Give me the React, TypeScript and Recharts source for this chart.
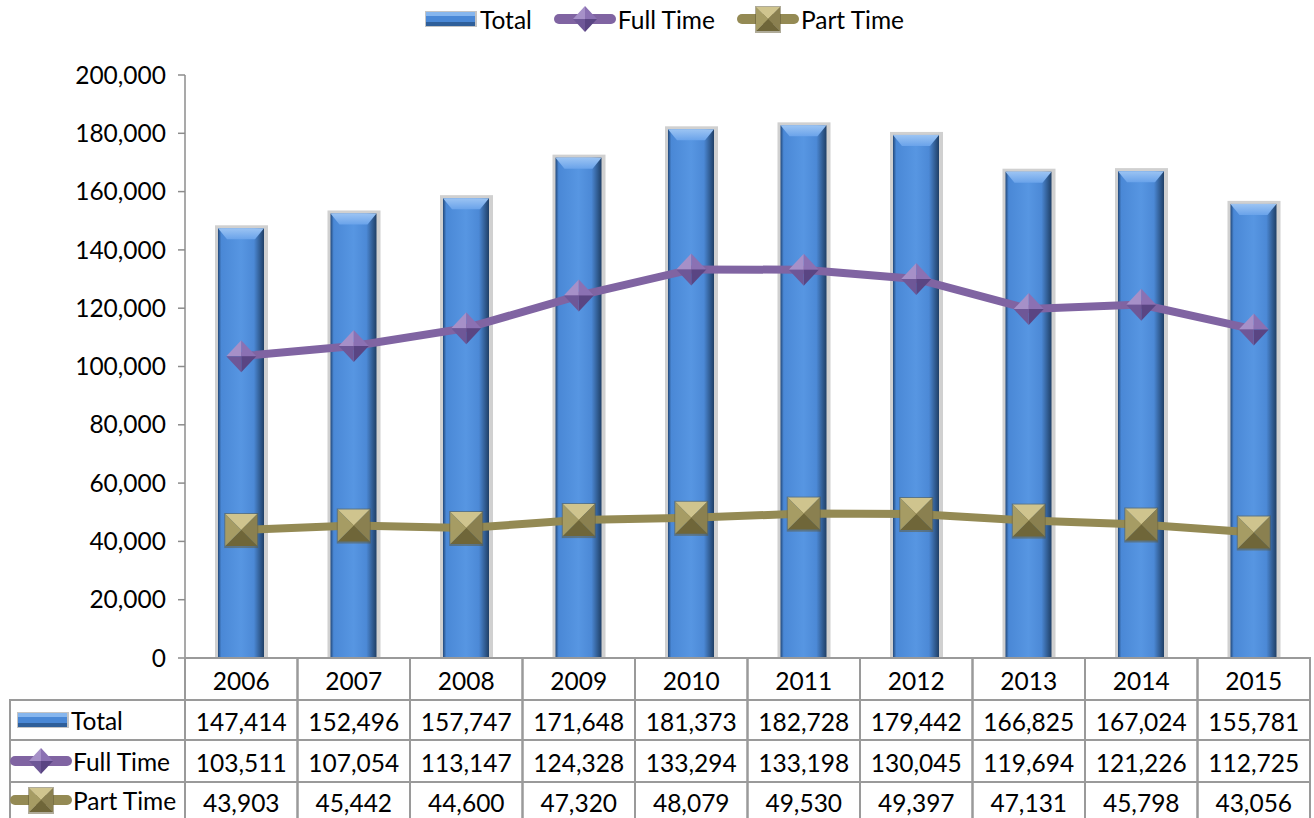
import React from 'react';
import { ComposedChart, Bar, Line, XAxis, YAxis } from 'recharts';

const years = ['2006', '2007', '2008', '2009', '2010', '2011', '2012', '2013', '2014', '2015'];
const total = [147414, 152496, 157747, 171648, 181373, 182728, 179442, 166825, 167024, 155781];
const fullTime = [103511, 107054, 113147, 124328, 133294, 133198, 130045, 119694, 121226, 112725];
const partTime = [43903, 45442, 44600, 47320, 48079, 49530, 49397, 47131, 45798, 43056];
const yTicks = [0, 20000, 40000, 60000, 80000, 100000, 120000, 140000, 160000, 180000, 200000];
const seriesNames = ['Total', 'Full Time', 'Part Time'];

const data = years.map((year, i) => ({
  year,
  total: total[i],
  fullTime: fullTime[i],
  partTime: partTime[i],
}));

const W = 1314;
const H = 818;
const PLOT_LEFT = 185;
const PLOT_RIGHT = 4;
const PLOT_TOP = 75;
const AXIS_H = 160;
const AXIS_Y = H - AXIS_H;
const BAND = (W - PLOT_LEFT - PLOT_RIGHT) / years.length;
const FONT = 'Lato, "Noto Sans", sans-serif';
const FS = 24.5;
const BORDER = '#9a9a9a';
const fmt = (v: number) => v.toLocaleString('en-US');

const PURPLE = '#8064A2';
const OLIVE = '#948A54';

const Diamond = ({ cx, cy, r = 15 }: any) => {
  const t = `${cx},${cy - r - 1}`;
  const rr = `${cx + r},${cy}`;
  const b = `${cx},${cy + r + 1}`;
  const l = `${cx - r},${cy}`;
  const c = `${cx},${cy}`;
  return (
    <g>
      <polygon points={`${c} ${l} ${t}`} fill="#A690C8" />
      <polygon points={`${c} ${t} ${rr}`} fill="#8B71B3" />
      <polygon points={`${c} ${rr} ${b}`} fill="#5A4583" />
      <polygon points={`${c} ${b} ${l}`} fill="#6E5797" />
    </g>
  );
};

const Pyramid = ({ cx, cy, r = 16 }: any) => {
  const tl = `${cx - r},${cy - r}`;
  const tr = `${cx + r},${cy - r}`;
  const br = `${cx + r},${cy + r}`;
  const bl = `${cx - r},${cy + r}`;
  const c = `${cx},${cy}`;
  return (
    <g>
      <rect x={cx - r - 1} y={cy - r - 1} width={2 * r + 2} height={2 * r + 3} fill="#5f5733" opacity={0.5} />
      <polygon points={`${c} ${tl} ${tr}`} fill="#CFC48E" />
      <polygon points={`${c} ${tr} ${br}`} fill="#8A8050" />
      <polygon points={`${c} ${br} ${bl}`} fill="#6F6639" />
      <polygon points={`${c} ${bl} ${tl}`} fill="#A69C64" />
    </g>
  );
};

const BarShape = (props: any) => {
  const { x, y, width, height } = props;
  if (!height || height <= 0) return null;
  const bv = 9;
  return (
    <g>
      <rect x={x - 3} y={y - 3} width={width + 7} height={height + 3} fill="#d0d0d0" />
      <rect x={x} y={y} width={width} height={height} fill="url(#barBody)" />
      <polygon
        points={`${x},${y} ${x + width},${y} ${x + width - bv},${y + bv + 2} ${x + bv},${y + bv + 2}`}
        fill="url(#barTop)"
      />
    </g>
  );
};

const BarIcon = () => (
  <svg width={54} height={20} style={{ verticalAlign: 'middle' }}>
    <rect x={1} y={2} width={52} height={16} fill="#c4c4c4" />
    <rect x={2} y={3} width={49} height={14} fill="#4A88D6" />
    <rect x={2} y={3} width={49} height={4} fill="#86B6EE" />
    <rect x={2} y={13} width={49} height={4} fill="#2f5f9a" />
  </svg>
);

const LineIcon = ({ kind }: { kind: 'd' | 's' }) => (
  <svg width={62} height={34} style={{ verticalAlign: 'middle' }}>
    <line x1={5} y1={17} x2={57} y2={17} stroke={kind === 'd' ? PURPLE : OLIVE} strokeWidth={10} strokeLinecap="round" />
    {kind === 'd' ? <Diamond cx={31} cy={17} r={12} /> : <Pyramid cx={31} cy={17} r={12} />}
  </svg>
);

const icons = [<BarIcon key="b" />, <LineIcon key="d" kind="d" />, <LineIcon key="s" kind="s" />];

const TableTick = (props: any) => {
  const { x, payload } = props;
  const i = payload.index;
  const left = x - BAND / 2;
  const rowTops = [AXIS_Y, 700, 740, 782];
  const rowBottoms = [700, 740, 782, 830];
  const cells = [years[i], fmt(total[i]), fmt(fullTime[i]), fmt(partTime[i])];
  return (
    <g>
      {cells.map((txt, r) => (
        <g key={r}>
          <rect x={left} y={rowTops[r]} width={BAND} height={rowBottoms[r] - rowTops[r]} fill="none" stroke={BORDER} strokeWidth={2} />
          <text
            x={x}
            y={(rowTops[r] + Math.min(rowBottoms[r], 818)) / 2 + (r === 3 ? 2 : 1)}
            textAnchor="middle"
            dominantBaseline="central"
            fontSize={FS}
            fontFamily={FONT}
            fill="#000"
          >
            {txt}
          </text>
        </g>
      ))}
      {i === 0 &&
        [1, 2, 3].map((r) => (
          <rect key={r} x={10} y={rowTops[r]} width={PLOT_LEFT - 10} height={rowBottoms[r] - rowTops[r]} fill="none" stroke={BORDER} strokeWidth={2} />
        ))}
    </g>
  );
};

export default function App() {
  return (
    <div style={{ position: 'absolute', left: 0, top: 0, width: W, height: H, background: '#fff', fontFamily: FONT, overflow: 'hidden' }}>
      <ComposedChart width={W} height={H} data={data} margin={{ top: PLOT_TOP, right: PLOT_RIGHT, bottom: 0, left: 0 }}>
        <defs>
          <linearGradient id="barBody" x1="0" y1="0" x2="1" y2="0">
            <stop offset="0" stopColor="#23497a" />
            <stop offset="0.07" stopColor="#4A88D6" />
            <stop offset="0.5" stopColor="#5796E2" />
            <stop offset="0.78" stopColor="#4C89D6" />
            <stop offset="1" stopColor="#1f3f66" />
          </linearGradient>
          <linearGradient id="barTop" x1="0" y1="0" x2="0" y2="1">
            <stop offset="0" stopColor="#9cc4f3" />
            <stop offset="1" stopColor="#6aa3ea" />
          </linearGradient>
        </defs>
        <XAxis
          dataKey="year"
          height={AXIS_H}
          axisLine={{ stroke: '#8c8c8c', strokeWidth: 1.5 }}
          tickLine={false}
          tickSize={0}
          tickMargin={0}
          interval={0}
          tick={<TableTick />}
        />
        <YAxis
          width={PLOT_LEFT}
          domain={[0, 200000]}
          ticks={yTicks}
          interval={0}
          tickFormatter={fmt}
          axisLine={{ stroke: '#8c8c8c', strokeWidth: 1.5 }}
          tickLine={{ stroke: '#8c8c8c', strokeWidth: 1.5 }}
          tickSize={7}
          tickMargin={12}
          tick={{ fill: '#000', fontSize: FS, fontFamily: FONT }}
        />
        <Bar dataKey="total" barSize={46} shape={<BarShape />} isAnimationActive={false} />
        <Line
          dataKey="fullTime"
          stroke={PURPLE}
          strokeWidth={8}
          dot={(p: any) => <Diamond key={`d${p.index}`} cx={p.cx} cy={p.cy} />}
          activeDot={false}
          isAnimationActive={false}
        />
        <Line
          dataKey="partTime"
          stroke={OLIVE}
          strokeWidth={8}
          dot={(p: any) => <Pyramid key={`s${p.index}`} cx={p.cx} cy={p.cy} />}
          activeDot={false}
          isAnimationActive={false}
        />
      </ComposedChart>
      <div style={{ position: 'absolute', top: 2, left: 0, width: W, display: 'flex', justifyContent: 'center', fontSize: FS, alignItems: 'center' }}>
        {seriesNames.map((n, i) => (
          <span key={n} style={{ display: 'inline-flex', alignItems: 'center', marginRight: i < 2 ? 22 : 0, marginLeft: i === 0 ? 14 : 0 }}>
            {icons[i]}
            <span style={{ marginLeft: 2 }}>{n}</span>
          </span>
        ))}
      </div>
      {seriesNames.map((n, r) => (
        <div
          key={n}
          style={{ position: 'absolute', left: 14, top: [700, 740, 782][r], height: [40, 42, 36][r], display: 'flex', alignItems: 'center', fontSize: FS }}
        >
          <span style={{ marginLeft: r === 0 ? 2 : -4, display: 'inline-flex' }}>{icons[r]}</span>
          <span style={{ marginLeft: 1 }}>{n}</span>
        </div>
      ))}
    </div>
  );
}
